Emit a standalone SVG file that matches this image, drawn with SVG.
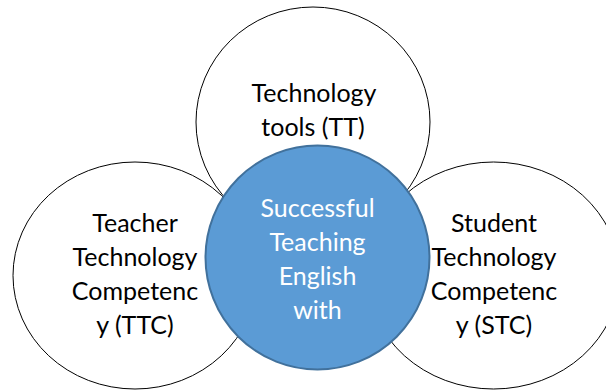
<svg xmlns="http://www.w3.org/2000/svg" width="606" height="392" viewBox="0 0 606 392">
<style>
.outer{fill:#FFFFFF;stroke:#000000;stroke-width:1}
.core{fill:#5B9BD5;stroke:#41719C;stroke-width:2}
.t{font-family:Lato,"Open Sans","Liberation Sans",sans-serif;font-size:25px;text-anchor:middle;fill:#000000}
.w{fill:#FFFFFF}
</style>
<rect width="606" height="392" fill="#FFFFFF"/>
<g id="connectors"></g>
<g id="node-tt">
<ellipse class="outer" cx="313" cy="122" rx="117" ry="115"/>
<text class="t" x="314" y="102">Technology</text>
<text class="t" x="313" y="136">tools (TT)</text>
</g>
<g id="node-ttc">
<ellipse class="outer" cx="135" cy="275.5" rx="122" ry="113.5"/>
<text class="t" x="135" y="232">Teacher</text>
<text class="t" x="135" y="266">Technology</text>
<text class="t" x="135" y="300">Competenc</text>
<text class="t" x="135" y="334">y (TTC)</text>
</g>
<g id="node-stc">
<ellipse class="outer" cx="493.5" cy="275.5" rx="126" ry="113.5"/>
<text class="t" x="494" y="232">Student</text>
<text class="t" x="494" y="266">Technology</text>
<text class="t" x="494" y="300">Competenc</text>
<text class="t" x="494" y="334">y (STC)</text>
</g>
<g id="node-core">
<circle class="core" cx="317.5" cy="257.5" r="112"/>
<text class="t w" x="317.5" y="217">Successful</text>
<text class="t w" x="317.5" y="251">Teaching</text>
<text class="t w" x="317.5" y="285">English</text>
<text class="t w" x="317.5" y="319">with</text>
</g>
</svg>
